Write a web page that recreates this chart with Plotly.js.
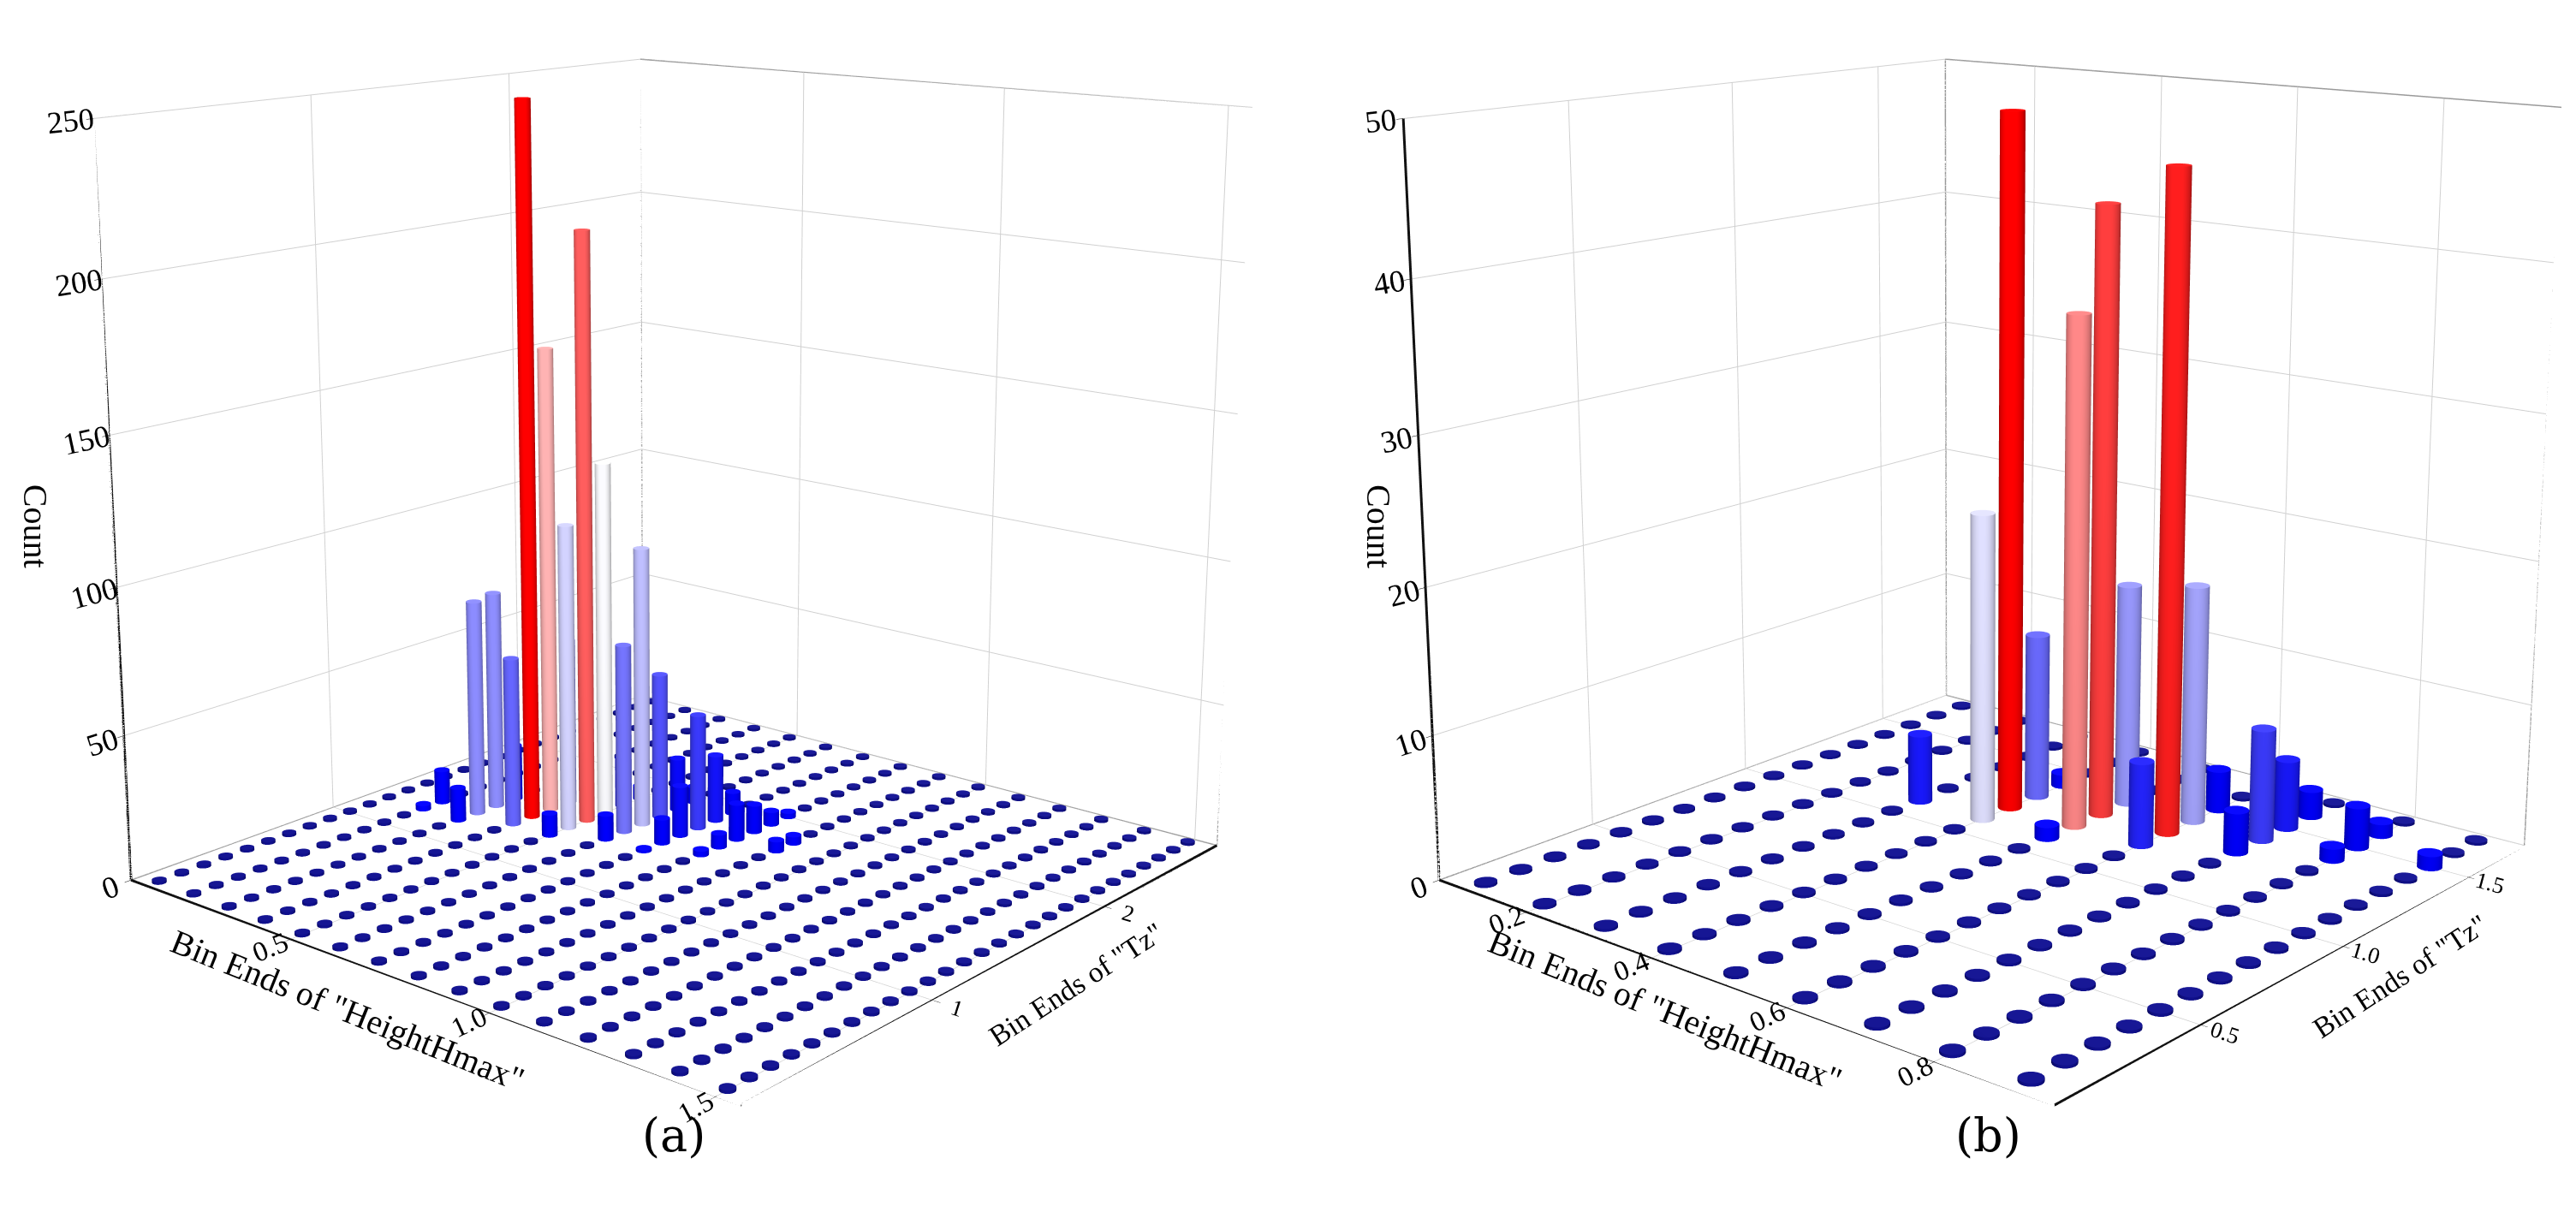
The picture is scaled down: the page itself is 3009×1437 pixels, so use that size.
<!DOCTYPE html>
<html>
<head>
<meta charset="utf-8">
<script src="https://cdn.plot.ly/plotly-3.0.1.min.js"></script>
<style>
  html, body { margin: 0; padding: 0; background: #ffffff; overflow: hidden; }
  #frame { position: relative; width: 3009px; height: 1437px; overflow: hidden; }
  #chart { position: absolute; left: 0; top: -802px; width: 3009px; height: 2772px; }
</style>
</head>
<body>
<div id="frame"><div id="chart"></div></div>
<script>
// ---------------- DATA ----------------
// Panel (a): bin ends of HeightHmax and Tz
const aHeightBins = [0.1,0.2,0.3,0.4,0.5,0.6,0.7,0.8,0.9,1.0,1.1,1.2,1.3,1.4,1.5];
const aTzBins = [0.1,0.2,0.3,0.4,0.5,0.6,0.7,0.8,0.9,1.0,1.1,1.2,1.3,1.4,1.5,1.6,1.7,1.8,1.9,2.0,2.1,2.2,2.3,2.4,2.5,2.6,2.7];
// non-zero cells of panel (a)
const aCellHeight = [0.2,0.2,0.3,0.3,0.3,0.3,0.4,0.4,0.4,0.4,0.4,0.5,0.5,0.5,0.5,0.5,0.5,0.6,0.6,0.6,0.6,0.6,0.6,0.7,0.7,0.7,0.7,0.7,0.7,0.8,0.8,0.8,0.8,0.8,0.8,0.9,0.9];
const aCellTz     = [1.2,1.3,1.2,1.3,1.4,1.5,1.3,1.4,1.5,1.6,1.7,1.3,1.4,1.5,1.6,1.7,1.8,1.4,1.5,1.6,1.7,1.8,1.9,1.4,1.5,1.6,1.7,1.8,1.9,1.5,1.6,1.7,1.8,1.9,2.0,1.7,1.8];
const aCellCount  = [2,12,12,77,78,20,60,254,165,60,8,8,108,207,126,18,5,9,67,99,52,19,6,1,9,18,41,24,8,2,5,13,10,5,2,4,3];

// Panel (b)
const bHeightBins = [0.1,0.2,0.3,0.4,0.5,0.6,0.7,0.8,0.9];
const bTzBins = [0.1,0.2,0.3,0.4,0.5,0.6,0.7,0.8,0.9,1.0,1.1,1.2,1.3,1.4,1.5,1.6,1.7];
const bCellHeight = [0.3,0.4,0.4,0.4,0.4,0.5,0.5,0.5,0.5,0.6,0.6,0.6,0.6,0.7,0.7,0.7,0.7,0.8,0.8,0.8,0.9];
const bCellTz     = [1.1,1.1,1.2,1.3,1.4,1.1,1.2,1.3,1.4,1.2,1.3,1.4,1.5,1.3,1.4,1.5,1.6,1.4,1.5,1.6,1.5];
const bCellCount  = [5,22,49,12,1,1,36,43,16,6,46,17,3,3,8,5,2,1,3,1,1];

// axis ticks
const aHeightTicks = [0.5,1.0,1.5], aHeightTickText = ['0.5','1.0','1.5'];
const aTzTicks = [1,2], aTzTickText = ['1','2'];
const aCountTicks = [0,50,100,150,200,250];
const bHeightTicks = [0.2,0.4,0.6,0.8], bHeightTickText = ['0.2','0.4','0.6','0.8'];
const bTzTicks = [0.5,1.0,1.5], bTzTickText = ['0.5','1.0','1.5'];
const bCountTicks = [0,10,20,30,40,50];

// ---------------- GEOMETRY HELPERS ----------------
const SEG = 18;
function emptyMesh(){ return {x:[],y:[],z:[],i:[],j:[],k:[],v:[]}; }
function addCylinder(m, cx, cy, h, rx, ry, val){
  const b = m.x.length;
  for (let s=0; s<SEG; s++){
    const a = 2*Math.PI*s/SEG;
    const px = cx + rx*Math.cos(a), py = cy + ry*Math.sin(a);
    m.x.push(px, px); m.y.push(py, py); m.z.push(0, h); m.v.push(val, val);
  }
  for (let s=0; s<SEG; s++){
    const s2 = (s+1)%SEG;
    m.i.push(b+2*s); m.j.push(b+2*s2); m.k.push(b+2*s2+1);
    m.i.push(b+2*s); m.j.push(b+2*s2+1); m.k.push(b+2*s+1);
  }
  const c = m.x.length;
  m.x.push(cx); m.y.push(cy); m.z.push(h); m.v.push(val);
  for (let s=0; s<SEG; s++){
    const a = 2*Math.PI*s/SEG;
    m.x.push(cx + rx*Math.cos(a)); m.y.push(cy + ry*Math.sin(a)); m.z.push(h); m.v.push(val);
  }
  for (let s=0; s<SEG; s++){
    const s2 = (s+1)%SEG;
    m.i.push(c); m.j.push(c+1+s); m.k.push(c+1+s2);
  }
}

function buildPanel(cfg){
  const lookup = {};
  cfg.cellH.forEach((h, n) => { lookup[h.toFixed(2)+'|'+cfg.cellT[n].toFixed(2)] = cfg.cellC[n]; });
  const bars = emptyMesh(), zeros = emptyMesh();
  const xr = cfg.xRange, yr = cfg.yRange;
  const rx = cfg.radius * (xr[1]-xr[0]) / cfg.aspect.x;
  const ry = cfg.radius * (yr[1]-yr[0]) / cfg.aspect.y;
  const zmax = cfg.zRange[1];
  let cmax = 0;
  cfg.cellC.forEach(v => { if (v > cmax) cmax = v; });
  cfg.hBins.forEach(h => {
    cfg.tBins.forEach(t => {
      const key = h.toFixed(2)+'|'+t.toFixed(2);
      const v = lookup[key] || 0;
      if (v > 0) addCylinder(bars, h, t, v, rx, ry, v);
      else addCylinder(zeros, h, t, zmax*0.004, cfg.dotScale*rx, cfg.dotScale*ry, 0);
    });
  });
  const scene = cfg.scene;
  const lighting = {ambient:0.6, diffuse:0.75, specular:0.25, roughness:0.4, fresnel:0.1};
  const lightpos = {x: 1000, y: -3000, z: 2000};
  const tBars = {
    type:'mesh3d', scene: scene, x:bars.x, y:bars.y, z:bars.z, i:bars.i, j:bars.j, k:bars.k,
    intensity: bars.v, cmin: 0, cmax: cmax,
    colorscale: [[0,'#0000ff'],[0.06,'#0000ff'],[0.5,'#ffffff'],[1,'#ff0000']],
    showscale:false, flatshading:false, hoverinfo:'skip', lighting: lighting, lightposition: lightpos
  };
  const tZeros = {
    type:'mesh3d', scene: scene, x:zeros.x, y:zeros.y, z:zeros.z, i:zeros.i, j:zeros.j, k:zeros.k,
    color:'#10108e', flatshading:false, hoverinfo:'skip', lighting: lighting, lightposition: lightpos
  };
  const x0=xr[0], x1=xr[1], y0=yr[0], y1=yr[1], z0=0, z1=zmax;
  const gray = {
    type:'scatter3d', mode:'lines', scene: scene, hoverinfo:'skip',
    x:[x0,x0,x1,null, x0,x0,null, x1,x1,null, x0,x0,x1],
    y:[y0,y1,y1,null, y1,y1,null, y1,y1,null, y0,y1,y1],
    z:[z1,z1,z1,null, z0,z1,null, z0,z1,null, z0,z0,z0],
    line:{color:'#9a9a9a', width:3}
  };
  const black = {
    type:'scatter3d', mode:'lines', scene: scene, hoverinfo:'skip',
    x:[x0,x0,null, x0,x1,x1],
    y:[y0,y0,null, y0,y0,y1],
    z:[z0,z1,null, z0,z0,z0],
    line:{color:'#111111', width:6}
  };
  return [tZeros, tBars, gray, black];
}

const common = {aspect:{x:1, y:1, z:0.97}};
const panelA = buildPanel({
  scene:'scene', hBins:aHeightBins, tBins:aTzBins, cellH:aCellHeight, cellT:aCellTz, cellC:aCellCount,
  xRange:[0.05,1.55], yRange:[0.05,2.75], zRange:[0,250], radius:0.0105, dotScale:0.9, aspect: common.aspect
});
const panelB = buildPanel({
  scene:'scene2', hBins:bHeightBins, tBins:bTzBins, cellH:bCellHeight, cellT:bCellTz, cellC:bCellCount,
  xRange:[0.05,0.95], yRange:[0.05,1.75], zRange:[0,50], radius:0.0165, dotScale:0.9, aspect: common.aspect
});

function axis(range, tickvals, ticktext, fontsize){
  return {
    range: range, autorange:false, tickvals: tickvals, ticktext: ticktext,
    title:{text:''}, showgrid:true, gridcolor:'#d0d0d0', gridwidth:2,
    zeroline:false, showline:false, showbackground:false, showspikes:false,
    ticks:'outside', ticklen:8, tickcolor:'#000',
    tickfont:{family:'Liberation Serif, serif', size:fontsize, color:'#000'}
  };
}
const eye = {x:2.245, y:-2.676, z:0.871};
const cameraA = {eye:eye, center:{x:0, y:0, z:0}, up:{x:0,y:0,z:1}};
const cameraB = {eye:{x:eye.x-0.026, y:eye.y-0.022, z:eye.z}, center:{x:-0.026, y:-0.022, z:0}, up:{x:0,y:0,z:1}};

// paper coordinates of the taller plotting canvas (2772 px, shifted up by 802 px)
function py(winY){ return 1 - (winY + 802)/2772; }
function ann(text, x, winY, angle, size, family){
  return {text:text, xref:'paper', yref:'paper', x:x, y:py(winY), xanchor:'center', yanchor:'middle',
          showarrow:false, textangle:angle, font:{family:family, size:size, color:'#000'}};
}
const serif = 'Liberation Serif, serif';

const layout = {
  width:3009, height:2772, paper_bgcolor:'#fff', showlegend:false,
  margin:{l:0,r:0,t:0,b:0},
  hovermode:false,
  scene:{
    domain:{x:[0.015,0.515], y:[0,1]},
    xaxis: axis([0.05,1.55], aHeightTicks, aHeightTickText, 20),
    yaxis: axis([0.05,2.75], aTzTicks, aTzTickText, 18),
    zaxis: axis([0,250], aCountTicks, aCountTicks.map(String), 21),
    aspectmode:'manual', aspectratio: common.aspect, camera: cameraA
  },
  scene2:{
    domain:{x:[0.525,1.0], y:[0,1]},
    xaxis: axis([0.05,0.95], bHeightTicks, bHeightTickText, 20),
    yaxis: axis([0.05,1.75], bTzTicks, bTzTickText, 18),
    zaxis: axis([0,50], bCountTicks, bCountTicks.map(String), 21),
    aspectmode:'manual', aspectratio: common.aspect, camera: cameraB
  },
  annotations:[
    ann('Count', 0.014, 615, 90, 40, serif),
    ann('Bin Ends of "HeightHmax"', 0.135, 1180, 22, 40, serif),
    ann('Bin Ends of "Tz"', 0.418, 1150, -33, 34, serif),
    ann('(a)', 0.2615, 1326, 0, 54, 'DejaVu Serif, serif'),
    ann('Count', 0.5354, 615, 90, 40, serif),
    ann('Bin Ends of "HeightHmax"', 0.6464, 1180, 22, 40, serif),
    ann('Bin Ends of "Tz"', 0.9316, 1140, -33, 34, serif),
    ann('(b)', 0.7717, 1326, 0, 54, 'DejaVu Serif, serif')
  ]
};

Plotly.newPlot('chart', panelA.concat(panelB), layout, {displayModeBar:false});
</script>
</body>
</html>
